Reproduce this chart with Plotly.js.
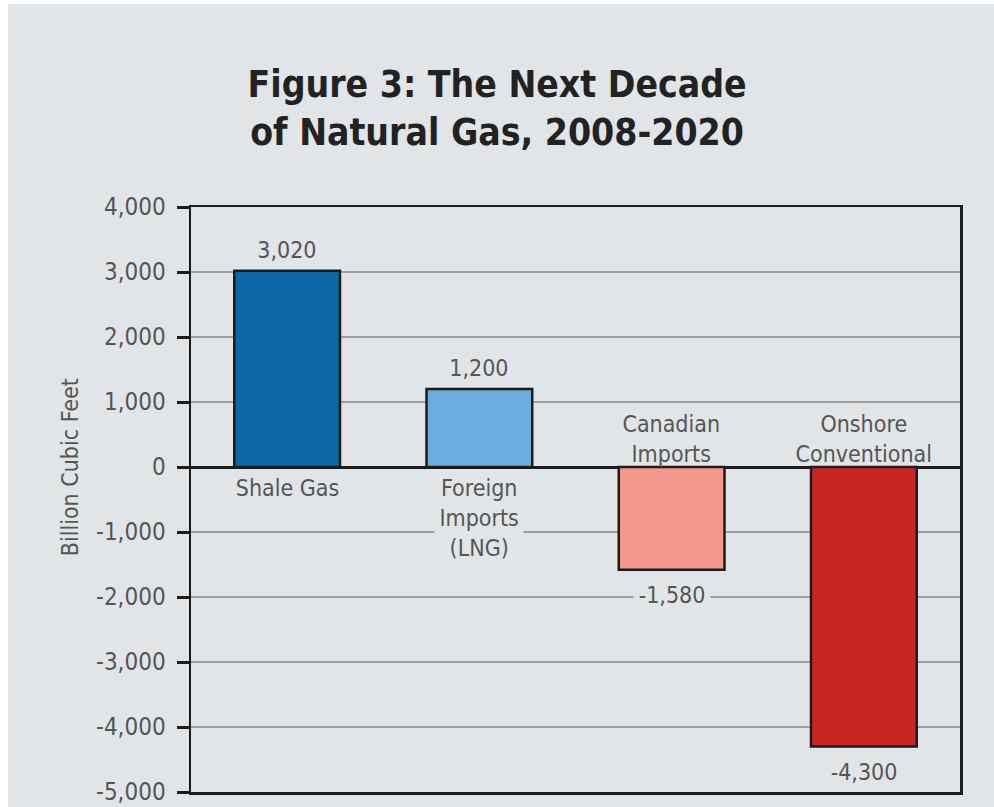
<!DOCTYPE html>
<html>
<head>
<meta charset="utf-8">
<script src="https://cdn.plot.ly/plotly-3.0.1.min.js"></script>
<style>
  html, body { margin: 0; padding: 0; background: #ffffff; width: 994px; height: 807px; overflow: hidden; }
  #chart { position: absolute; left: 8px; top: 4px; width: 986px; height: 803px; }
  #chart text { font-stretch: condensed !important; }
</style>
</head>
<body>
<div id="chart"></div>
<script>
// ---- Data ----
const categories = ['Shale Gas', 'Foreign Imports (LNG)', 'Canadian Imports', 'Onshore Conventional'];
const categoryLabels = ['Shale Gas', 'Foreign<br>Imports<br>(LNG)', 'Canadian<br>Imports', 'Onshore<br>Conventional'];
const values = [3020, 1200, -1580, -4300];
const valueLabels = ['3,020', '1,200', '-1,580', '-4,300'];
const barColors = ['#0c68a6', '#6cade0', '#f4968b', '#c92621'];
const yTickVals = [4000, 3000, 2000, 1000, 0, -1000, -2000, -3000, -4000, -5000];
const yTickText = ['4,000', '3,000', '2,000', '1,000', '0', '-1,000', '-2,000', '-3,000', '-4,000', '-5,000'];
const titleText = 'Figure 3: The Next Decade<br>of Natural Gas, 2008-2020';
const yTitleText = 'Billion Cubic Feet';

// ---- Styles ----
const BG = '#e1e5e8';
const FONT = '"DejaVu Sans", sans-serif';
const TEXT_GRAY = '#555555';
const INK = '#1c1c1c';

const trace = {
  type: 'bar',
  x: categories,
  y: values,
  width: 0.55,
  marker: { color: barColors, line: { color: INK, width: 2.5 } },
  hoverinfo: 'skip'
};

const annotations = [];
categories.forEach((c, i) => {
  const pos = values[i] >= 0;
  annotations.push({
    x: c, y: values[i], xref: 'x', yref: 'y',
    text: valueLabels[i], showarrow: false,
    yanchor: pos ? 'bottom' : 'top', yshift: pos ? 6 : -10,
    bgcolor: BG, borderpad: 1,
    font: { family: FONT, size: 23, color: TEXT_GRAY }
  });
  annotations.push({
    x: c, y: 0, xref: 'x', yref: 'y',
    text: categoryLabels[i], showarrow: false,
    yanchor: pos ? 'top' : 'bottom', yshift: pos ? -7 : -1,
    bgcolor: pos ? BG : 'rgba(0,0,0,0)', borderpad: 0,
    font: { family: FONT, size: 23, color: TEXT_GRAY }
  });
});
annotations.push({
  xref: 'paper', yref: 'y', x: -0.157, y: 0,
  text: yTitleText, textangle: -90, showarrow: false,
  xanchor: 'center', yanchor: 'middle',
  font: { family: FONT, size: 23, color: TEXT_GRAY }
});

const layout = {
  width: 986, height: 803,
  paper_bgcolor: BG, plot_bgcolor: BG,
  margin: { l: 183, r: 34, t: 203, b: 15 },
  showlegend: false,
  title: {
    text: titleText,
    xref: 'container', yref: 'container',
    x: 0.496, y: 0.884, xanchor: 'center', yanchor: 'top',
    font: { family: FONT, size: 37, color: '#222222', weight: 'bold' }
  },
  xaxis: {
    type: 'category',
    showticklabels: false, ticks: '',
    showgrid: false, zeroline: false,
    showline: true, mirror: true, linecolor: INK, linewidth: 2.5,
    fixedrange: true
  },
  yaxis: {
    range: [-5000, 4000],
    tickvals: yTickVals, ticktext: yTickText,
    ticks: 'outside', ticklen: 12, tickwidth: 3, tickcolor: INK,
    ticklabeloverflow: 'allow', ticklabelstandoff: 6,
    tickfont: { family: FONT, size: 24, color: TEXT_GRAY },
    showgrid: true, gridcolor: '#9d9fa1', gridwidth: 1.5,
    zeroline: true, zerolinecolor: INK, zerolinewidth: 3,
    showline: true, mirror: true, linecolor: INK, linewidth: 2.5,
    fixedrange: true
  },
  annotations: annotations
};

Plotly.newPlot('chart', [trace], layout, { displayModeBar: false, staticPlot: true });
</script>
</body>
</html>
